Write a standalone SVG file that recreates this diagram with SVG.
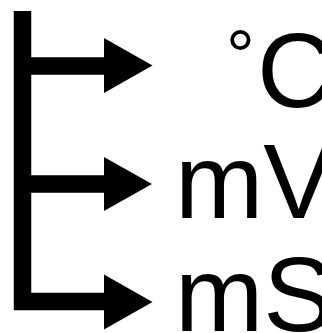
<svg xmlns="http://www.w3.org/2000/svg" width="322" height="333" viewBox="0 0 322 333">
<style>
.ln{fill:none;stroke:#000;stroke-width:17.5;stroke-linecap:butt;stroke-linejoin:miter}
.hd{fill:#000;stroke:none}
.t{font-family:"Liberation Sans",Arial,sans-serif;font-size:106px;fill:#000}
</style>
<rect width="322" height="333" fill="#fff"/>
<g id="connectors">
<path class="ln" d="M22.5 11 V301.5 H106 M22.5 66 H106 M22.5 184 H106"/>
<path class="hd" d="M104 38 L152.5 65.5 L104 93 Z"/>
<path class="hd" d="M104 157 L152 184 L104 211 Z"/>
<path class="hd" d="M104 274.5 L152.5 302 L104 329.5 Z"/>
</g>
<g id="node-degC"><text class="t" x="257" y="107">C</text><text class="t" style="font-size:72px" x="226" y="79.5">°</text></g>
<g id="node-mV"><text class="t" x="175" y="218">mV</text></g>
<g id="node-mS"><text class="t" x="175" y="331">mS</text></g>
</svg>
